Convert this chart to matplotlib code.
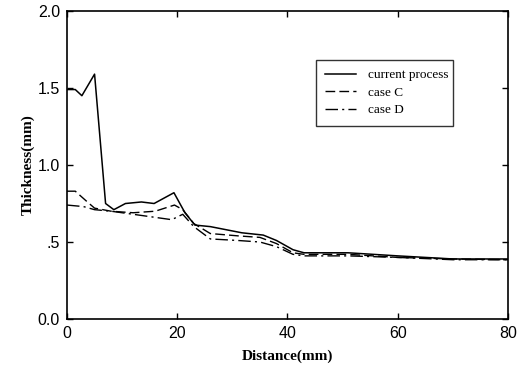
import matplotlib.pyplot as plt

# data
x_cur = [0, 1.5, 2.7, 5.0, 7.0, 8.5, 10.6, 13.5, 15.8, 19.4, 21.4, 23.2, 26, 31.7, 35.6, 38, 41, 43, 51, 60, 70, 80]
y_cur = [1.49, 1.49, 1.45, 1.59, 0.75, 0.71, 0.75, 0.76, 0.75, 0.82, 0.69, 0.61, 0.60, 0.56, 0.545, 0.51, 0.45, 0.43, 0.43, 0.41, 0.39, 0.39]

x_c = [0, 1.5, 3.7, 5, 8, 12, 16, 19.5, 21, 23, 26, 31, 35, 38, 41, 43, 51, 60, 70, 80]
y_c = [0.83, 0.83, 0.76, 0.72, 0.70, 0.69, 0.70, 0.74, 0.71, 0.62, 0.555, 0.54, 0.53, 0.49, 0.43, 0.42, 0.42, 0.40, 0.39, 0.385]

x_d = [0, 3, 5, 8, 12, 16, 19, 21, 23, 26, 31, 35, 38, 41, 43, 51, 60, 70, 80]
y_d = [0.74, 0.73, 0.71, 0.70, 0.68, 0.66, 0.645, 0.68, 0.60, 0.52, 0.51, 0.50, 0.47, 0.42, 0.41, 0.41, 0.40, 0.385, 0.385]

fig = plt.figure(figsize=(5.21, 3.74), dpi=100)
ax = fig.add_axes([0.1286, 0.147, 0.8464, 0.8236])

ax.plot(x_cur, y_cur, color='black', lw=1.1, label='current process')
ax.plot(x_c, y_c, color='black', lw=1.0, dashes=(7, 3), label='case C')
ax.plot(x_d, y_d, color='black', lw=1.0, dashes=(9, 3, 1.5, 3), label='case D')

ax.set_xlim(0, 80)
ax.set_ylim(0, 2.0)
ax.set_xticks([0, 20, 40, 60, 80])
ax.set_yticks([0, 0.5, 1.0, 1.5, 2.0])
ax.set_yticklabels(['0.0', '.5', '1.0', '1.5', '2.0'])
ax.tick_params(direction='in', length=4, width=1, top=True, right=True,
               labelsize=11.5, pad=5)
for lab in ax.get_xticklabels() + ax.get_yticklabels():
    lab.set_family('Liberation Sans')
for s in ax.spines.values():
    s.set_linewidth(1.2)

ax.set_xlabel('Distance(mm)', family='Liberation Serif', weight='bold', fontsize=11, labelpad=6)
ax.set_ylabel('Thickness(mm)', family='Liberation Serif', weight='bold', fontsize=11, labelpad=2)

leg = ax.legend(loc='upper left', bbox_to_anchor=(0.565, 0.62, 0.311, 0.221), mode='expand',
                prop={'family': 'Liberation Serif', 'size': 9.5}, frameon=True,
                fancybox=False, edgecolor='black', handlelength=2.3, borderpad=0.7,
                labelspacing=0.4, handletextpad=0.9, borderaxespad=0)
leg.get_frame().set_linewidth(1.0)

fig.savefig('out.png', dpi=100)
